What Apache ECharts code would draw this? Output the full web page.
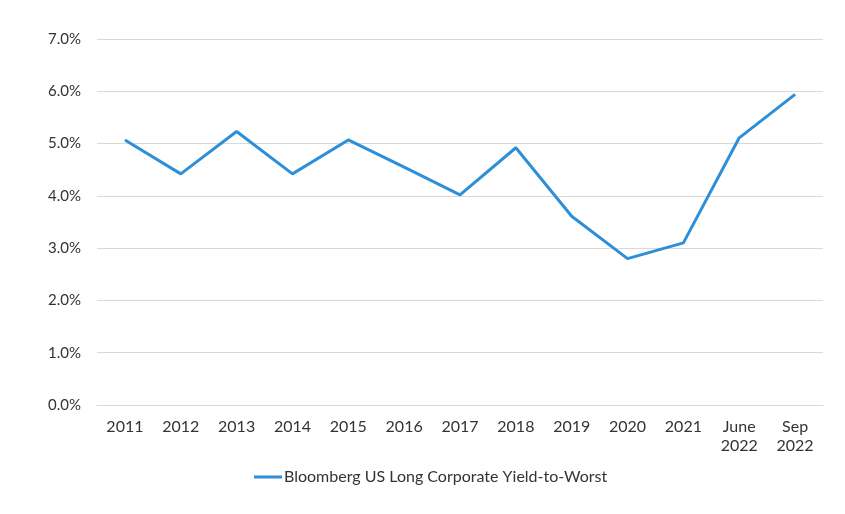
<!DOCTYPE html>
<html>
<head>
<meta charset="utf-8">
<script src="https://cdn.jsdelivr.net/npm/echarts@6/dist/echarts.min.js"></script>
<style>
html,body{margin:0;padding:0;background:#fff;}
#chart{width:845px;height:514px;}
</style>
</head>
<body>
<div id="chart"></div>
<script>
const categories = ['2011','2012','2013','2014','2015','2016','2017','2018','2019','2020','2021','June\n2022','Sep\n2022'];
const seriesName = 'Bloomberg US Long Corporate Yield-to-Worst';
const yieldValues = [5.07, 4.42, 5.23, 4.42, 5.07, 4.55, 4.02, 4.92, 3.61, 2.80, 3.10, 5.11, 5.94];
const yTicks = { min: 0, max: 7, interval: 1 };

const chart = echarts.init(document.getElementById('chart'));
const font = 'Lato, "Open Sans", sans-serif';
const textColor = '#333333';
chart.setOption({
  animation: false,
  grid: { left: 97, right: 22, top: 39, bottom: 109 },
  legend: {
    bottom: 29,
    left: 254,
    padding: 0,
    data: [seriesName],
    icon: 'rect',
    itemWidth: 28,
    itemHeight: 3,
    itemGap: 10,
    textStyle: { fontFamily: font, fontSize: 16, color: textColor, padding: [0,0,0,-3] }
  },
  xAxis: {
    type: 'category',
    data: categories,
    boundaryGap: true,
    axisLine: { show: true, lineStyle: { color: '#d9d9d9', width: 1 } },
    axisTick: { show: false },
    axisLabel: { fontFamily: font, fontSize: 16, color: textColor, margin: 12, lineHeight: 19, interval: 0 }
  },
  yAxis: {
    type: 'value',
    min: yTicks.min, max: yTicks.max, interval: yTicks.interval,
    axisLine: { show: false },
    axisTick: { show: false },
    splitLine: { lineStyle: { color: '#d9d9d9', width: 1 } },
    axisLabel: { fontFamily: font, fontSize: 15, color: textColor, margin: 16,
      formatter: v => v.toFixed(1) + '%' }
  },
  series: [{
    name: seriesName,
    type: 'line',
    data: yieldValues,
    symbol: 'none',
    lineStyle: { color: '#2E8FD9', width: 3 },
    itemStyle: { color: '#2E8FD9' }
  }]
});
</script>
</body>
</html>
